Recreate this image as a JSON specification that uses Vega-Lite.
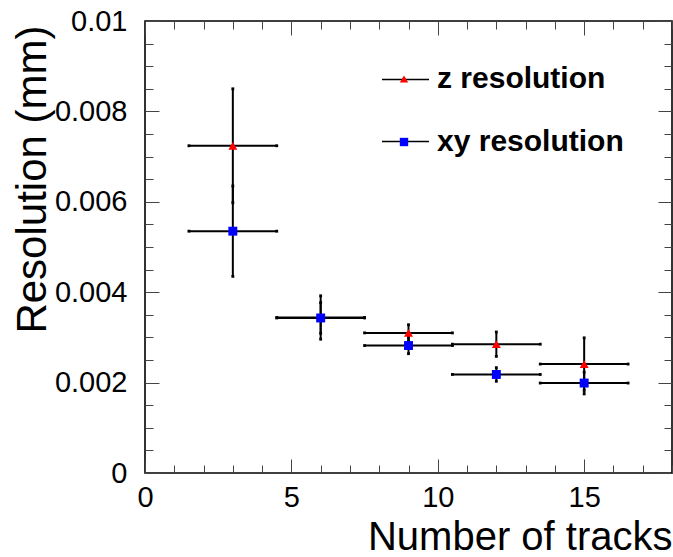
{
  "$schema": "https://vega.github.io/schema/vega-lite/v6.json",
  "width": 527,
  "height": 452,
  "autosize": "none",
  "padding": {"left": 145, "top": 21, "right": 1, "bottom": 84},
  "background": "white",
  "config": {
    "view": {"stroke": "#000", "strokeWidth": 1.6},
    "font": "Liberation Sans",
    "axis": {"grid": false, "domain": false, "tickColor": "#444", "tickWidth": 1}
  },
  "datasets": {
    "pts": [
      {"series": "z resolution", "key": "z", "x": 3, "y": 0.00724, "ylo": 0.00598, "yhi": 0.0085, "xlo": 1.5, "xhi": 4.5},
      {"series": "z resolution", "key": "z", "x": 6, "y": 0.00344, "ylo": 0.00296, "yhi": 0.00392, "xlo": 4.5, "xhi": 7.5},
      {"series": "z resolution", "key": "z", "x": 9, "y": 0.0031, "ylo": 0.00292, "yhi": 0.00328, "xlo": 7.5, "xhi": 10.5},
      {"series": "z resolution", "key": "z", "x": 12, "y": 0.00285, "ylo": 0.00258, "yhi": 0.00312, "xlo": 10.5, "xhi": 13.5},
      {"series": "z resolution", "key": "z", "x": 15, "y": 0.00241, "ylo": 0.00183, "yhi": 0.00299, "xlo": 13.5, "xhi": 16.5},
      {"series": "xy resolution", "key": "xy", "x": 3, "y": 0.00535, "ylo": 0.00435, "yhi": 0.00635, "xlo": 1.5, "xhi": 4.5},
      {"series": "xy resolution", "key": "xy", "x": 6, "y": 0.00343, "ylo": 0.00309, "yhi": 0.00377, "xlo": 4.5, "xhi": 7.5},
      {"series": "xy resolution", "key": "xy", "x": 9, "y": 0.00282, "ylo": 0.00264, "yhi": 0.003, "xlo": 7.5, "xhi": 10.5},
      {"series": "xy resolution", "key": "xy", "x": 12, "y": 0.00218, "ylo": 0.00203, "yhi": 0.00233, "xlo": 10.5, "xhi": 13.5},
      {"series": "xy resolution", "key": "xy", "x": 15, "y": 0.00199, "ylo": 0.00175, "yhi": 0.00223, "xlo": 13.5, "xhi": 16.5}
    ]
  },
  "data": {"name": "pts"},
  "resolve": {"axis": {"x": "independent", "y": "independent"}},
  "layer": [
    {
      "mark": {"type": "rule", "strokeWidth": 2},
      "encoding": {
        "x": {"field": "xlo", "type": "quantitative", "scale": {"domain": [0, 18], "nice": false, "zero": false},
          "axis": {"orient": "bottom", "values": [0,1,2,3,4,5,6,7,8,9,10,11,12,13,14,15,16,17,18],
            "labelExpr": "datum.value % 5 === 0 ? datum.label : ''",
            "tickSize": {"condition": {"test": "datum.value % 5 === 0", "value": -14}, "value": -8},
            "labelFontSize": 29, "labelFont": "Liberation Sans", "labelColor": "#000", "labelPadding": 24, "labelFlush": false,
            "title": "Number of tracks", "titleFontSize": 40, "titleFontWeight": "normal", "titleFont": "Liberation Sans", "titleColor": "#000",
            "titleAnchor": "end", "titleAlign": "right", "titleBaseline": "alphabetic", "titleY": 76}},
        "x2": {"field": "xhi"},
        "y": {"field": "y", "type": "quantitative", "scale": {"domain": [0, 0.01], "nice": false},
          "axis": {"orient": "left", "values": [0,0.0005,0.001,0.0015,0.002,0.0025,0.003,0.0035,0.004,0.0045,0.005,0.0055,0.006,0.0065,0.007,0.0075,0.008,0.0085,0.009,0.0095,0.01],
            "labelExpr": "round(datum.value*2000) % 4 === 0 ? format(datum.value, '~g') : ''",
            "tickSize": {"condition": {"test": "round(datum.value*2000) % 4 === 0", "value": -14}, "value": -8},
            "labelFontSize": 29, "labelFont": "Liberation Sans", "labelColor": "#000", "labelPadding": 32, "labelFlush": false,
            "title": "Resolution (mm)", "titleFontSize": 42, "titleFontWeight": "normal", "titleFont": "Liberation Sans", "titleColor": "#000",
            "titleAnchor": "end", "titleAlign": "right", "titleBaseline": "alphabetic", "titleAngle": -90, "titleX": -100, "titleY": 4}},
        "color": {"field": "key", "type": "nominal", "scale": {"domain": ["z", "xy"], "range": ["#000000", "#000000"]},
          "legend": {"orient": "none", "legendX": 236, "legendY": 34, "title": null, "symbolType": "stroke", "symbolSize": 2209,
            "symbolStrokeWidth": 1.5, "labelExpr": "''", "labelFontSize": 30, "rowPadding": 22, "padding": 0, "zindex": 1}}
      }
    },
    {
      "mark": {"type": "rule", "strokeWidth": 2},
      "encoding": {
        "x": {"field": "x", "type": "quantitative", "scale": {"domain": [0, 18], "nice": false, "zero": false},
          "axis": {"orient": "top", "values": [0,1,2,3,4,5,6,7,8,9,10,11,12,13,14,15,16,17,18], "labels": false, "title": null,
            "tickSize": {"condition": {"test": "datum.value % 5 === 0", "value": -14}, "value": -8}}},
        "y": {"field": "ylo", "type": "quantitative", "scale": {"domain": [0, 0.01], "nice": false},
          "axis": {"orient": "right", "values": [0,0.0005,0.001,0.0015,0.002,0.0025,0.003,0.0035,0.004,0.0045,0.005,0.0055,0.006,0.0065,0.007,0.0075,0.008,0.0085,0.009,0.0095,0.01], "labels": false, "title": null,
            "tickSize": {"condition": {"test": "round(datum.value*2000) % 4 === 0", "value": -14}, "value": -8}}},
        "y2": {"field": "yhi"},
        "color": {"field": "key", "type": "nominal"}
      }
    },
    {
      "mark": {"type": "point", "shape": "square", "filled": true, "size": 8, "color": "#000", "opacity": 1},
      "encoding": {
        "x": {"field": "xlo", "type": "quantitative", "axis": null},
        "y": {"field": "y", "type": "quantitative", "axis": null}
      }
    },
    {
      "mark": {"type": "point", "shape": "square", "filled": true, "size": 8, "color": "#000", "opacity": 1},
      "encoding": {
        "x": {"field": "xhi", "type": "quantitative", "axis": null},
        "y": {"field": "y", "type": "quantitative", "axis": null}
      }
    },
    {
      "mark": {"type": "point", "shape": "square", "filled": true, "size": 8, "color": "#000", "opacity": 1},
      "encoding": {
        "x": {"field": "x", "type": "quantitative", "axis": null},
        "y": {"field": "ylo", "type": "quantitative", "axis": null}
      }
    },
    {
      "mark": {"type": "point", "shape": "square", "filled": true, "size": 8, "color": "#000", "opacity": 1},
      "encoding": {
        "x": {"field": "x", "type": "quantitative", "axis": null},
        "y": {"field": "yhi", "type": "quantitative", "axis": null}
      }
    },
    {
      "mark": {"type": "point", "filled": true, "opacity": 1, "strokeWidth": 0},
      "encoding": {
        "x": {"field": "x", "type": "quantitative", "axis": null},
        "y": {"field": "y", "type": "quantitative", "axis": null},
        "fill": {"field": "series", "type": "nominal", "scale": {"domain": ["z resolution", "xy resolution"], "range": ["#ff0000", "#0000ff"]},
          "legend": {"orient": "none", "legendX": 244, "legendY": 43, "title": null, "symbolSize": 70, "symbolStrokeWidth": 0,
            "labelFont": "Liberation Sans", "labelFontWeight": "bold", "labelFontSize": 30, "labelColor": "#000", "labelOffset": 18,
            "rowPadding": 33, "padding": 0, "zindex": 2, "labelLimit": 400}},
        "shape": {"field": "series", "type": "nominal", "scale": {"domain": ["z resolution", "xy resolution"], "range": ["triangle-up", "square"]}},
        "size": {"value": 80}
      }
    }
  ]
}
